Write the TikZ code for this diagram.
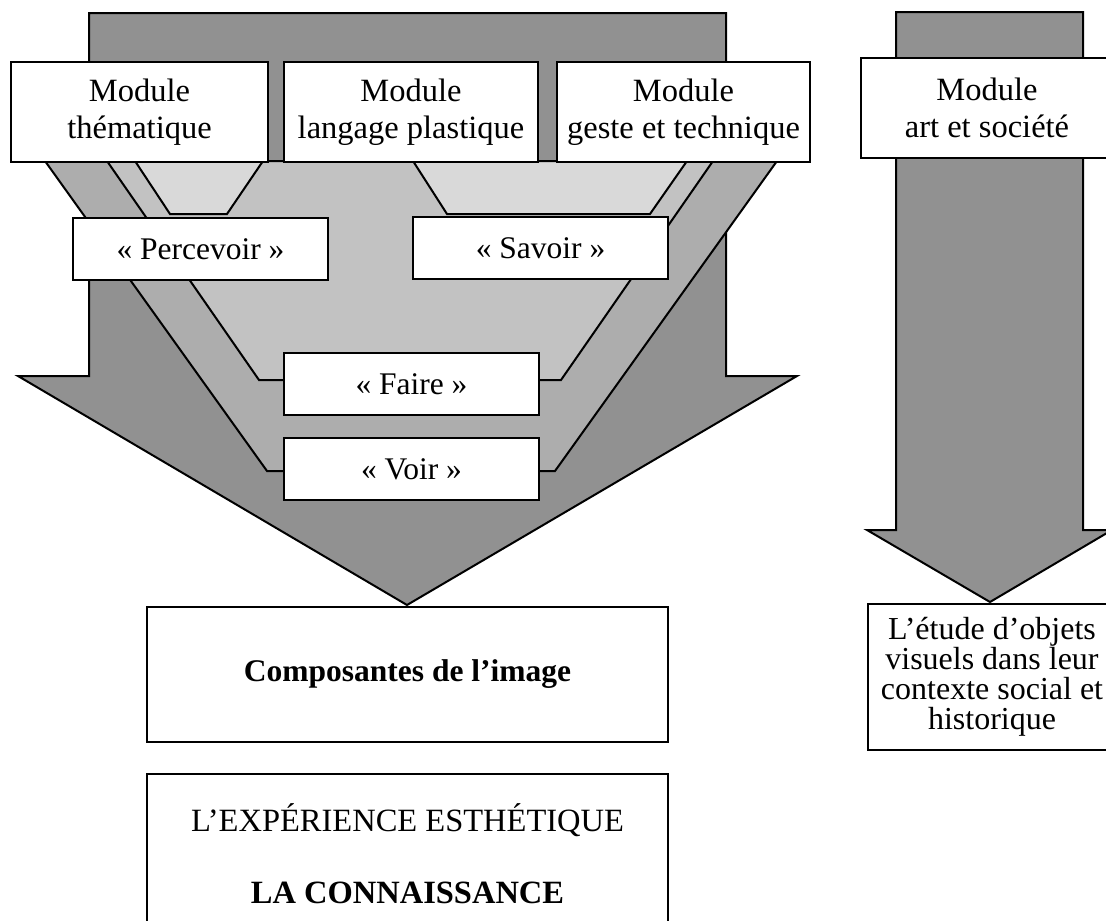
\documentclass[tikz,border=0pt]{standalone}
\usepackage{fontspec}
\setmainfont{Liberation Serif}
\usetikzlibrary{positioning}

\begin{document}
\begin{tikzpicture}[
    x=1pt, y=-1pt,
    line width=2pt, line join=miter,
    modbox/.style={draw, fill=white, align=center, inner sep=0pt, font=\fontsize{32.5}{37}\selectfont},
    verbbox/.style={draw, fill=white, inner sep=0pt, minimum width=255pt, minimum height=62pt, font=\fontsize{31.5}{37}\selectfont},
    bigarrow/.style={draw, fill=black!43},
    band/.style={draw, fill=black!32},
    innerband/.style={draw, fill=black!24},
    funnel/.style={draw, fill=black!15}
]
    \useasboundingbox (0,0) rectangle (1106,921);

    % Block arrows
    \draw[bigarrow] (89,13) -- (726,13) -- (726,376) -- (797,376) -- (407,605) -- (18,376) -- (89,376) -- cycle;
    \draw[bigarrow] (896,12) -- (1083,12) -- (1083,530) -- (1112,530) -- (990,602) -- (867,530) -- (896,530) -- cycle;

    % Bands inside the big arrow
    \draw[band] (45,161) -- (777,161) -- (555,471) -- (267,471) -- cycle;
    \draw[innerband] (107,161) -- (713,161) -- (561,380) -- (259,380) -- cycle;
    \draw[funnel] (135,161) -- (263,161) -- (227,214) -- (170,214) -- cycle;
    \draw[funnel] (413,161) -- (687,161) -- (650,214) -- (447,214) -- cycle;

    % Modules
    \node[modbox, anchor=north west, minimum width=257pt, minimum height=100pt] (them) at (10,61) {Module\\thématique};
    \node[modbox, anchor=north west, minimum width=254pt, minimum height=100pt] (lang) at (283,61) {Module\\langage plastique};
    \node[modbox, anchor=north west, minimum width=253pt, minimum height=100pt] (geste) at (556,61) {Module\\geste et technique};
    \node[modbox, anchor=north west, minimum width=252pt, minimum height=100pt] (art) at (860,57) {Module\\art et société};

    % Verbs
    \node[verbbox, anchor=north west] (perc) at (72,217) {« Percevoir »};
    \node[verbbox, anchor=north west] (sav) at (412,216) {« Savoir »};
    \node[verbbox, anchor=north west] (faire) at (283,352) {« Faire »};
    \node[verbbox, below=21pt of faire] (voir) {« Voir »};

    % Results
    \node[modbox, anchor=north west, minimum width=521pt, minimum height=135pt, font=\fontsize{31.5}{37}\selectfont\bfseries] (comp) at (146,606) {Composantes de l’image};
    \node[modbox, anchor=north west, minimum width=521pt, minimum height=160pt] (exp) at (146,773) {L’EXPÉRIENCE ESTHÉTIQUE\\[35pt]\textbf{LA CONNAISSANCE}};
    \node[modbox, anchor=north west, minimum width=248pt, minimum height=146pt, font=\fontsize{32}{30}\selectfont] (etude) at (867,603) {L’étude d’objets\\visuels dans leur\\contexte social et\\historique};
\end{tikzpicture}
\end{document}
